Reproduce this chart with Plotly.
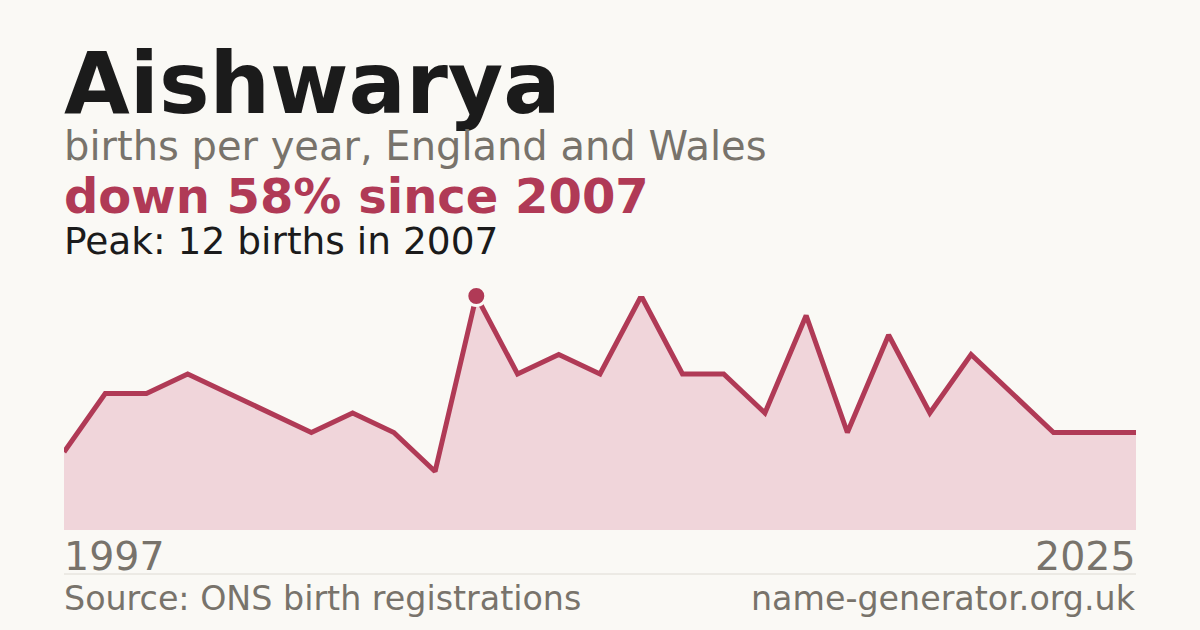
import plotly.graph_objects as go

# births per year for the name (two later years are absent)
years = [1997, 1998, 1999, 2000, 2001, 2002, 2003, 2004, 2005, 2006, 2007,
         2008, 2009, 2010, 2011, 2012, 2013, 2014, 2016, 2017, 2018, 2020,
         2021, 2022, 2023, 2024, 2025]
births = [4, 7, 7, 8, 7, 6, 5, 6, 5, 3, 12,
          8, 9, 8, 12, 8, 8, 6, 11, 5, 10, 6,
          9, 7, 5, 5, 5]

name = "Aishwarya"
subtitle = "births per year, England and Wales"
source_text = "Source: ONS birth registrations"
site_text = "name-generator.org.uk"

bg = "#faf9f5"
ink = "#1b1b1b"
grey = "#78736b"
accent = "#b03a56"
fill = "#f0d5da"

W, H = 1200, 630
FONT = "DejaVu Sans"

peak_i = births.index(max(births))
peak_val = births[peak_i]
peak_year = years[peak_i]
change = round((1 - births[-1] / peak_val) * 100)
cats = [str(y) for y in years]


def px_x(x):
    return x / W


def baseline_y(py, size):
    # paper y of the box bottom, so that the text baseline sits at pixel row py
    return 1 - (py + 0.236 * size + 1) / H


fig = go.Figure()
fig.add_trace(go.Scatter(x=cats, y=births, mode="lines",
                         line=dict(color=accent, width=5),
                         fill="tozeroy", fillcolor=fill,
                         hoverinfo="skip"))
fig.add_trace(go.Scatter(x=[cats[peak_i]], y=[peak_val], mode="markers",
                         marker=dict(color=accent, size=19, line=dict(color=bg, width=3)),
                         cliponaxis=False, hoverinfo="skip"))

texts = [
    (name, 62, 114, 85, ink, True, "left"),
    (subtitle, 62, 161, 40, grey, False, "left"),
    (f"down {change}% since {peak_year}", 62, 214, 48, accent, True, "left"),
    (f"Peak: {peak_val} births in {peak_year}", 62, 255, 37.5, ink, False, "left"),
    (str(years[0]), 62, 571, 39.5, grey, False, "left"),
    (str(years[-1]), 1138, 571, 39.5, grey, False, "right"),
    (source_text, 62, 611, 33.3, grey, False, "left"),
    (site_text, 1138, 611, 33.3, grey, False, "right"),
]
annotations = []
for txt, x, base, size, color, bold, anchor in texts:
    annotations.append(dict(
        text=f"<b>{txt}</b>" if bold else txt,
        x=px_x(x), y=baseline_y(base, size), xref="paper", yref="paper",
        xanchor=anchor, yanchor="bottom", showarrow=False,
        font=dict(family=FONT, size=size, color=color)))

fig.update_layout(
    width=W, height=H,
    paper_bgcolor=bg, plot_bgcolor=bg,
    margin=dict(l=0, r=0, t=0, b=0),
    showlegend=False,
    annotations=annotations,
    shapes=[dict(type="line", xref="paper", yref="paper",
                 x0=64 / W, x1=1136 / W, y0=1 - 574 / H, y1=1 - 574 / H,
                 line=dict(color="#dedbd4", width=1))],
    xaxis=dict(domain=[64 / W, 1136 / W], range=[0, len(cats) - 1],
               type="category", visible=False, fixedrange=True),
    yaxis=dict(domain=[1 - 530 / H, 1 - 296 / H], range=[0, peak_val],
               visible=False, fixedrange=True),
)

fig.write_html("out.html", config={"displayModeBar": False},
               post_script="document.body.style.margin='0';document.body.style.background='%s';" % bg)
